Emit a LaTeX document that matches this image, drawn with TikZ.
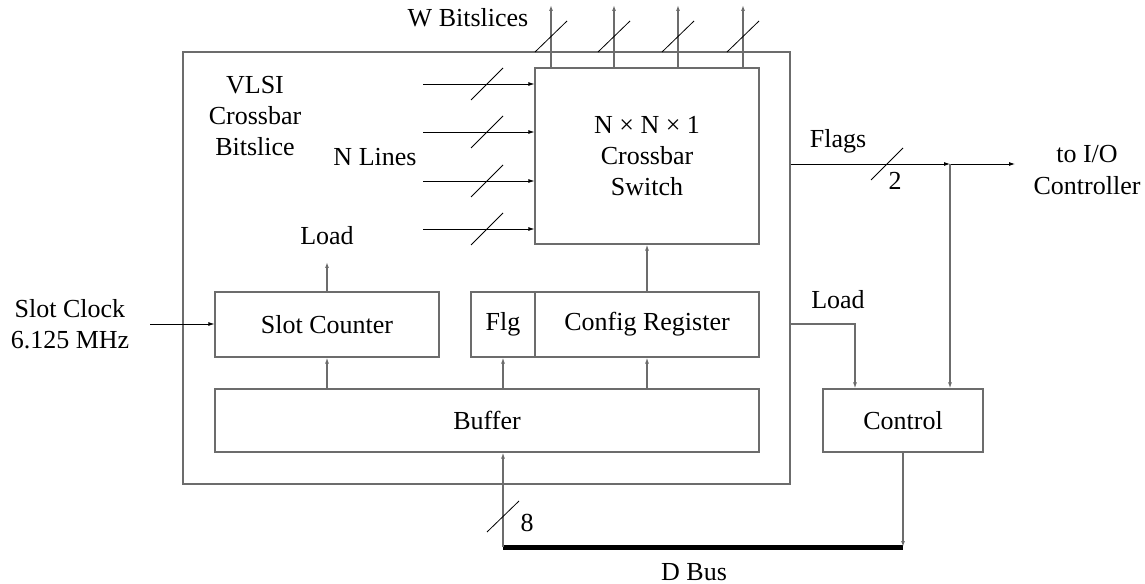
\documentclass[tikz,border=0pt]{standalone}
\usepackage{fontspec}
\setmainfont{Liberation Serif}
\usetikzlibrary{arrows.meta}
\begin{document}
\begin{tikzpicture}[x=0.75pt,y=-0.75pt,
  font=\fontsize{19.5}{23.3}\selectfont,
  box/.style={draw=gray!85!black, line width=0.9pt, inner sep=0pt, align=center},
  garrow/.style={draw=gray!85!black, line width=0.9pt, -{Latex[length=4.5pt,width=3pt]}},
  barrow/.style={draw=black, line width=0.6pt, -{Latex[length=4.5pt,width=3pt]}},
  slash/.style={draw=black, line width=0.6pt},
  txt/.style={inner sep=0pt, align=center}]
\useasboundingbox (0,0) rectangle (1145,584);

% boxes
\node[box, minimum width=455.25pt, minimum height=324pt] (outer) at (486.5,268) {};
\node[box, minimum width=168pt, minimum height=132pt] (xbar) at (647,156) {N × N × 1\\Crossbar\\Switch};
\node[box, minimum width=168pt, minimum height=48.75pt] (slot) at (327,324.5) {Slot Counter};
\node[box, minimum width=48pt, minimum height=48.75pt] (flg) at (503,324.5) {Flg};
\node[box, minimum width=168pt, minimum height=48.75pt] (cfg) at (647,324.5) {Config Register};
\node[box, minimum width=408pt, minimum height=47.25pt] (buf) at (487,420.5) {Buffer};
\node[box, minimum width=120pt, minimum height=47.25pt] (ctrl) at (903,420.5) {Control};

% labels
\node[txt] (wbit) at (468,18) {W Bitslices};
\node[txt] (vlsi) at (255,116) {VLSI\\Crossbar\\Bitslice};
\node[txt] (nlines) at (375,157) {N Lines};
\node[txt] (flags) at (838,141) {Flags};
\node[txt] (two) at (895,181) {2};
\node[txt] (toio) at (1087,170) {to I/O\\Controller};
\node[txt] (clk) at (70,324) {Slot Clock\\6.125 MHz};
\node[txt] (load1) at (327,236) {Load};
\node[txt] (load2) at (838,300) {Load};
\node[txt] (eight) at (527,523) {8};
\node[txt] (dbus) at (694,572) {D Bus};

% input lines
\foreach \i/\yy in {1/84,2/132,3/181,4/229}{
  \coordinate (in\i) at (423,\yy);
  \draw[barrow] (in\i) -- (in\i -| xbar.west);
  \draw[slash] (471,\yy+16) -- (503,\yy-16);
}
% output lines
\foreach \i/\xx in {1/551,2/614,3/678,4/743}{
  \coordinate (out\i) at (\xx,5);
  \draw[garrow] (out\i |- xbar.north) -- (out\i);
  \draw[slash] (\xx-16,52) -- (\xx+16,21);
}

% flags
\coordinate (fl0) at (outer.east |- 0,164);
\coordinate (fl1) at (950,164);
\coordinate (fl2) at (1015,164);
\draw[barrow] (fl0) -- (fl1);
\draw[barrow] (fl1) -- (fl2);
\draw[garrow] (fl1) -- (fl1 |- ctrl.north);
\draw[slash] (871,180) -- (903,148);

% load to control
\coordinate (ld0) at (outer.east |- 0,324);
\coordinate (ld1) at (855,324);
\draw[garrow] (ld0) -- (ld1) -- (ld1 |- ctrl.north);

% slot clock
\coordinate (clkin) at (150,324);
\draw[barrow] (clkin) -- (slot.west |- clkin);

% internal arrows
\coordinate (ldtop) at (327,262);
\draw[garrow] (slot.north) -- (ldtop);
\draw[garrow] (buf.north -| slot.north) -- (slot.south);
\draw[garrow] (buf.north -| flg.north) -- (flg.south);
\draw[garrow] (buf.north -| cfg.north) -- (cfg.south);
\draw[garrow] (cfg.north) -- (xbar.south);

% D bus
\coordinate (db0) at (503,547);
\coordinate (db1) at (903,547);
\draw[line width=3.75pt] (db0) -- (db1);
\draw[garrow] (ctrl.south) -- (db1);
\draw[garrow] (db0) -- (db0 |- buf.south);
\draw[slash] (487,532) -- (519,501);
\end{tikzpicture}
\end{document}
